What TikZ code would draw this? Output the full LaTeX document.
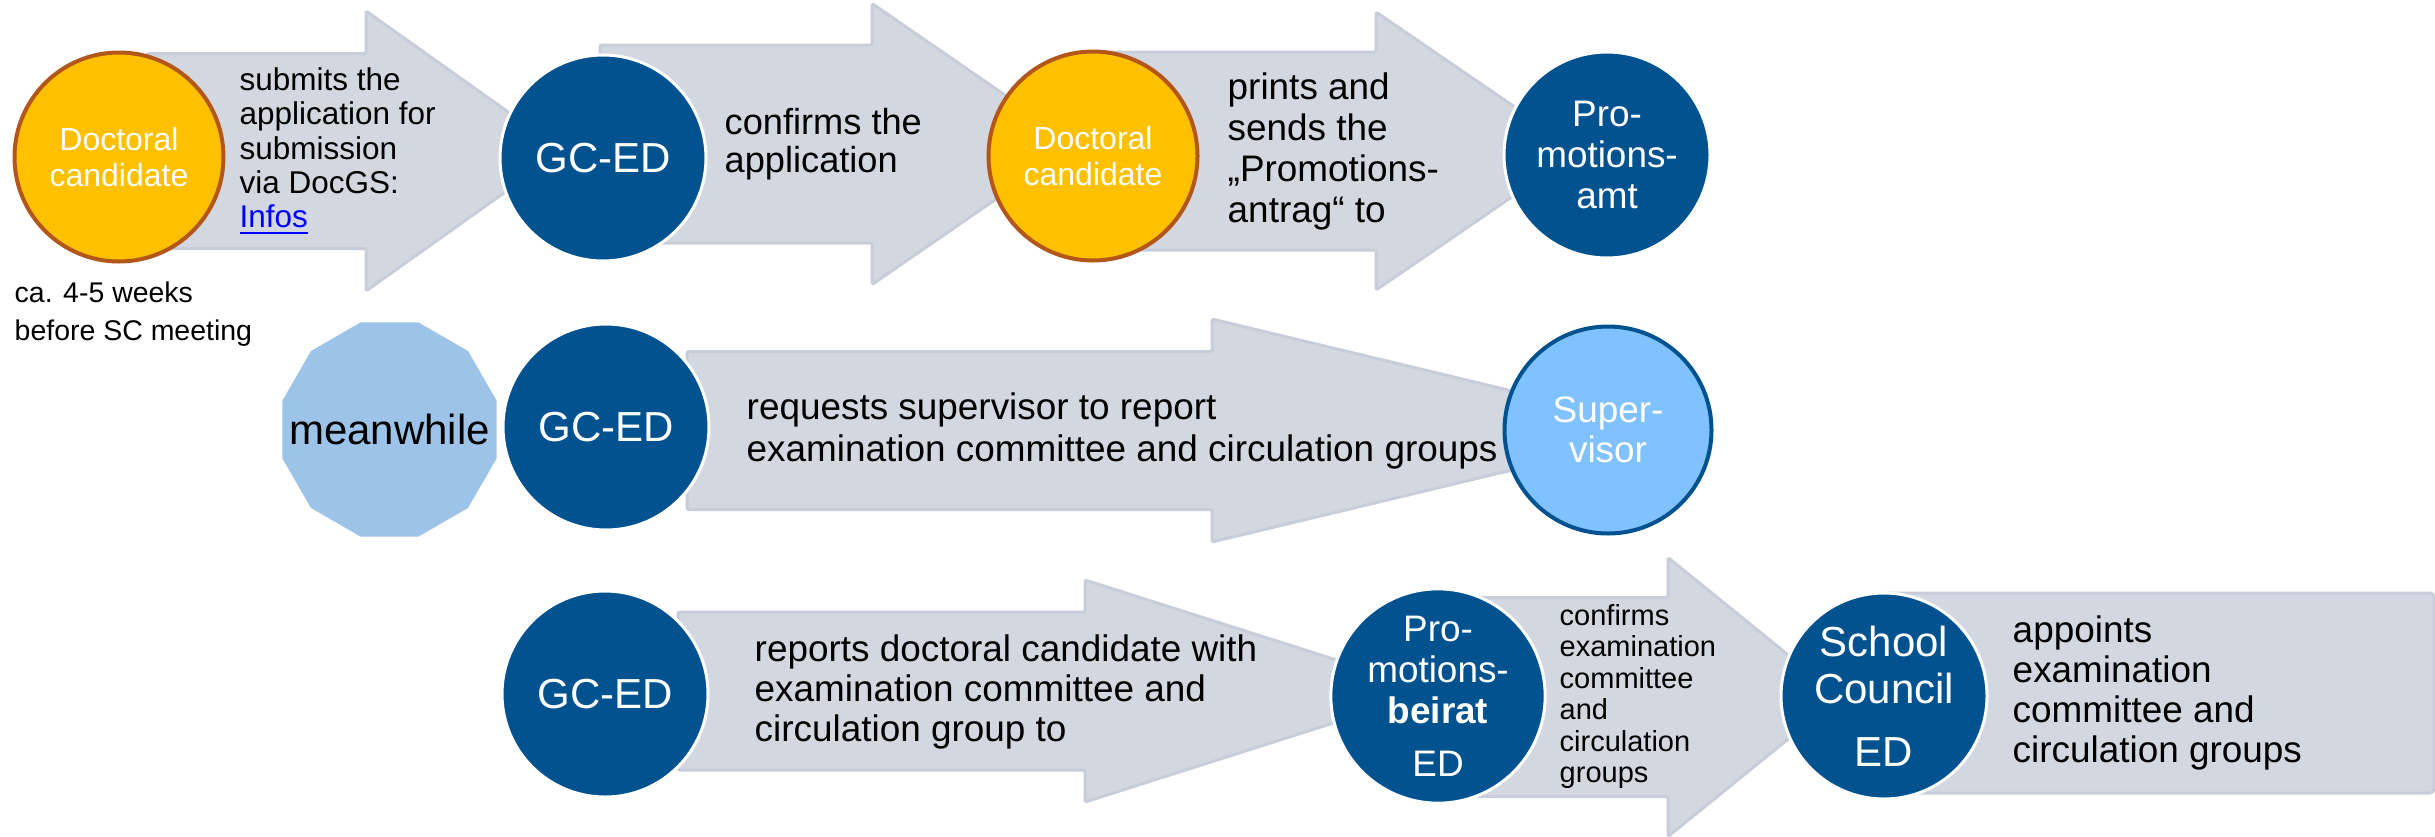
\documentclass[tikz,border=0pt]{standalone}
\usepackage{fontspec}
\setmainfont{Liberation Sans}
\definecolor{edblue}{RGB}{2,82,144}
\definecolor{dcyellow}{RGB}{255,192,0}
\definecolor{dcbrown}{RGB}{178,86,26}
\definecolor{supblue}{RGB}{128,193,255}
\definecolor{mwblue}{RGB}{157,196,232}
\definecolor{arrowfill}{RGB}{211,215,224}
\definecolor{arrowline}{RGB}{200,205,218}
\definecolor{linkblue}{RGB}{0,0,255}
\newcommand{\fsz}[2]{\fontsize{#1}{#2}\selectfont}
\newcommand{\blockarrow}[6]{%
  \filldraw[flow] (#1,#4-#5) -- (#2,#4-#5) -- (#2,#4-#6) -- (#3,#4)
    -- (#2,#4+#6) -- (#2,#4+#5) -- (#1,#4+#5) -- cycle;}

\begin{document}
\begin{tikzpicture}[x=0.1mm, y=-0.1mm,
    flow/.style={fill=arrowfill, draw=arrowline, line width=0.3mm, line join=round, rounded corners=0.2mm},
    person/.style={circle, fill=dcyellow, draw=dcbrown, line width=0.4mm, minimum size=20.9mm, inner sep=0, text=white, align=center, font=\fsz{9.1pt}{10pt}},
    office/.style={circle, fill=edblue, draw=white, line width=0.3mm, minimum size=20.6mm, inner sep=0, text=white, align=center, font=\fsz{10.5pt}{11.7pt}},
    big/.style={font=\fsz{11.95pt}{13.4pt}},
    task/.style={anchor=west, inner sep=0, align=left, text=black}]
    \useasboundingbox (0,0) rectangle (2435,836);

    \blockarrow{147}{366}{563}{151}{97.5}{140}
    \blockarrow{600}{872}{1076}{144}{99}{140.5}
    \blockarrow{1093}{1376}{1579}{151}{99}{139}
    \blockarrow{687}{1212}{1677}{430.5}{79}{111.5}
    \blockarrow{678}{1085}{1434}{691}{79}{111}
    \blockarrow{1438}{1668}{1840}{697}{99.5}{139.5}
    \filldraw[flow, rounded corners=0.4mm] (1884,593) rectangle (2434,793);

    \fill[mwblue] plot[samples at={15,45,...,345}] ({389.5+111*cos(\x)},{429.5+111*sin(\x)}) -- cycle;

    \node[person] (dc1) at (119,157) {Doctoral\\candidate};
    \node[office, big] (gc1) at (603,158) {GC-ED};
    \node[person] (dc2) at (1093,156) {Doctoral\\candidate};
    \node[office] (amt) at (1607,155) {Pro-\\motions-\\amt};
    \node[inner sep=0, big] (mw) at (389.5,429.5) {meanwhile};
    \node[office, big] (gc2) at (606,427) {GC-ED};
    \node[circle, fill=supblue, draw=edblue, line width=0.4mm, minimum size=20.7mm, inner sep=0, text=white, align=center, font=\fsz{10.5pt}{11.4pt}] (sup) at (1608,430) {Super-\\visor};
    \node[office, big] (gc3) at (605,694) {GC-ED};
    \node[office] (beirat) at (1438,696) {Pro-\\motions-\\\textbf{beirat}\\[1.2mm]ED};
    \node[office, big] (sc) at (1884,696) {School\\Council\\[1.6mm]ED};

    \node[task, font=\fsz{8.96pt}{9.76pt}] (t1) at (239,151.5) {submits the\\application for\\submission\\via DocGS:\\\textcolor{linkblue}{\underline{Infos}}};
    \node[task, font=\fsz{10.3pt}{10.9pt}] (t2) at (724,144) {confirms the\\application};
    \node[task, font=\fsz{10.5pt}{11.7pt}] (t3) at (1227,151.5) {prints and\\sends the\\„Promotions-\\antrag“ to};
    \node[task, font=\fsz{10.5pt}{12pt}] (t4) at (746,431) {requests supervisor to report\\examination committee and circulation groups};
    \node[task, font=\fsz{10.5pt}{11.4pt}] (t5) at (754,692) {reports doctoral candidate with\\examination committee and\\circulation group to};
    \node[task, font=\fsz{8.25pt}{8.93pt}] (t6) at (1559,696.5) {confirms\\examination\\committee\\and\\circulation\\groups};
    \node[task, font=\fsz{10.5pt}{11.4pt}] (t7) at (2012,693) {appoints\\examination\\committee and\\circulation groups};
    \node[task, font=\fsz{8.1pt}{10.8pt}] (when) at (14,314) {ca. 4-5 weeks\\before SC meeting};
\end{tikzpicture}
\end{document}
